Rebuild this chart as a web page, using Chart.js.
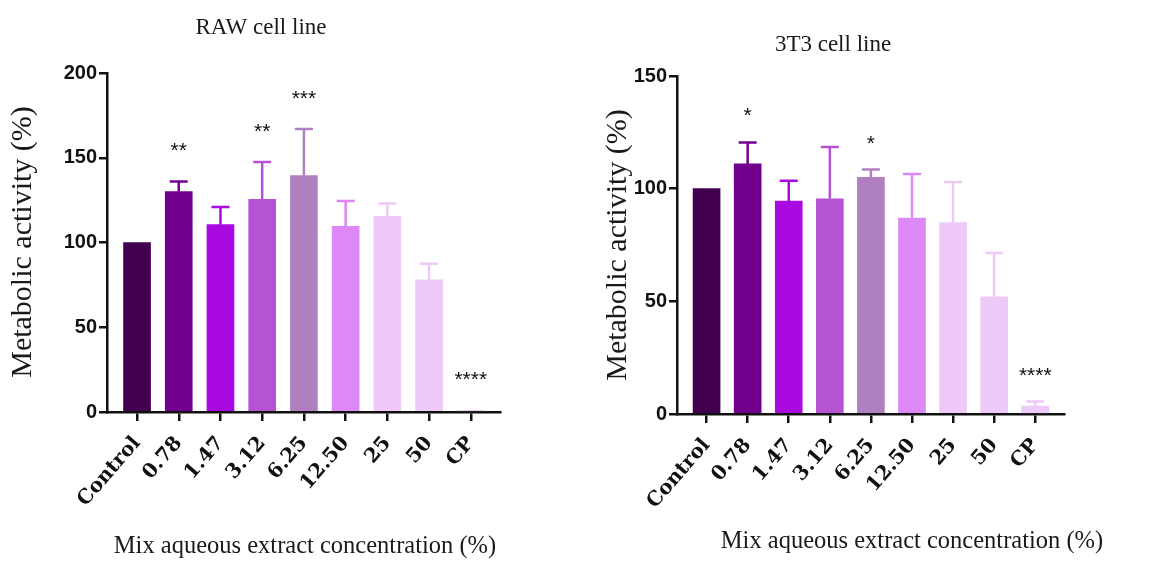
<!DOCTYPE html>
<html>
<head>
<meta charset="utf-8">
<script src="https://cdn.jsdelivr.net/npm/chart.js@4.4.1/dist/chart.umd.min.js"></script>
<style>
  body { margin: 0; background: #fff; }
  canvas { position: absolute; top: 0; }
  #raw { left: 0; }
  #t3 { left: 580px; }
</style>
</head>
<body>
<canvas id="raw" width="580" height="561" style="width:580px;height:561px"></canvas>
<canvas id="t3" width="589" height="561" style="width:589px;height:561px"></canvas>
<script>
const categories = ["Control", "0.78", "1.47", "3.12", "6.25", "12.50", "25", "50", "CP"];
const barColors = ["#410050", "#72008f", "#a90ae0", "#b553d4", "#b07fbf", "#dc88f6", "#efcaf8", "#eecaf8", "#edcaf7"];

// RAW cell line: mean and upper error (SD)
const rawMeans = [100, 130, 110.5, 125.5, 139.5, 109.5, 115.5, 78, 1];
const rawErrors = [0, 6, 10.5, 22, 27.5, 15, 7.5, 9.5, 0];
const rawStars = ["", "**", "", "**", "***", "", "", "", "****"];
const rawTicks = [0, 50, 100, 150, 200];

// 3T3 cell line
const t3Means = [100, 111, 94.5, 95.5, 105, 87, 85, 52, 3.5];
const t3Errors = [0, 9.5, 9, 23, 3.5, 19.5, 18, 19.5, 2];
const t3Stars = ["", "*", "", "", "*", "", "", "", "****"];
const t3Ticks = [0, 50, 100, 150];

const yTitle = "Metabolic activity (%)";
const xTitle = "Mix aqueous extract concentration (%)";

// error bars, significance stars and the text titles
const extras = {
  id: 'extras',
  afterDatasetsDraw(chart, args, o) {
    const ctx = chart.ctx, xs = chart.scales.x, ys = chart.scales.y;
    ctx.save();
    o.means.forEach((m, i) => {
      const px = xs.getPixelForValue(i);
      const top = ys.getPixelForValue(m + o.errors[i]);
      if (o.errors[i] > 0) {
        ctx.strokeStyle = barColors[i];
        ctx.lineWidth = 2.5;
        ctx.beginPath();
        ctx.moveTo(px, ys.getPixelForValue(m));
        ctx.lineTo(px, top);
        ctx.moveTo(px - 9, top);
        ctx.lineTo(px + 9, top);
        ctx.stroke();
      }
      if (o.stars[i]) {
        ctx.fillStyle = '#111';
        ctx.font = '21px "Liberation Sans"';
        ctx.textAlign = 'center';
        ctx.textBaseline = 'alphabetic';
        ctx.fillText(o.stars[i], px, top - o.starGap);
      }
    });
    ctx.restore();
  },
  afterDraw(chart, args, o) {
    const ctx = chart.ctx;
    ctx.save();
    ctx.fillStyle = '#1a1a1a';
    ctx.textAlign = 'center';
    ctx.textBaseline = 'middle';
    o.texts.forEach(t => {
      ctx.save();
      ctx.font = t.size + 'px "Liberation Serif"';
      ctx.translate(t.x, t.y);
      if (t.rot) ctx.rotate(-Math.PI / 2);
      ctx.fillText(t.text, 0, 0);
      ctx.restore();
    });
    ctx.restore();
  }
};

function makeChart(id, means, errors, stars, ticks, box, texts, starGap) {
  const ymax = ticks[ticks.length - 1];
  return new Chart(document.getElementById(id), {
    type: 'bar',
    data: {
      datasets: [{
        data: means.map((v, i) => ({ x: i, y: v })),
        backgroundColor: barColors,
        barThickness: 27
      }]
    },
    plugins: [extras],
    options: {
      responsive: false,
      animation: false,
      layout: { padding: { top: box.top, right: box.right, left: 0, bottom: 0 } },
      plugins: {
        legend: { display: false },
        tooltip: { enabled: false },
        extras: { means: means, errors: errors, stars: stars, texts: texts, starGap: starGap }
      },
      scales: {
        x: {
          type: 'linear',
          offset: false,
          min: -0.72,
          max: 8.7,
          afterBuildTicks: s => { s.ticks = categories.map((c, i) => ({ value: i })); },
          afterFit: s => { s.height = box.xh; },
          grid: { offset: false, drawOnChartArea: false, drawTicks: true, tickLength: 9, color: '#111', lineWidth: 2.5 },
          border: { display: true, color: '#111', width: 2.5 },
          ticks: {
            autoSkip: false,
            minRotation: 49,
            maxRotation: 49,
            padding: 11,
            color: '#111',
            font: { family: '"DejaVu Serif"', weight: 'bold', size: 20 },
            callback: v => categories[v]
          }
        },
        y: {
          min: 0,
          max: ymax,
          afterBuildTicks: s => { s.ticks = ticks.map(v => ({ value: v })); },
          afterFit: s => { s.width = box.yw; },
          grid: { drawOnChartArea: false, drawTicks: true, tickLength: 8, color: '#111', lineWidth: 2.5 },
          border: { display: true, color: '#111', width: 2.5 },
          ticks: {
            padding: 2,
            color: '#111',
            font: { family: '"Liberation Sans"', weight: 'bold', size: 20 }
          }
        }
      }
    }
  });
}

makeChart('raw', rawMeans, rawErrors, rawStars, rawTicks,
  { top: 73, right: 80, xh: 149, yw: 107 },
  [
    { text: "RAW cell line", x: 261, y: 28, size: 23 },
    { text: yTitle, x: 23, y: 242, size: 30, rot: true },
    { text: xTitle, x: 305, y: 547, size: 24.5 }
  ], 24);

makeChart('t3', t3Means, t3Errors, t3Stars, t3Ticks,
  { top: 76, right: 105, xh: 147, yw: 97 },
  [
    { text: "3T3 cell line", x: 253, y: 45, size: 23 },
    { text: yTitle, x: 38, y: 245, size: 30, rot: true },
    { text: xTitle, x: 332, y: 542, size: 24.5 }
  ], 20);
</script>
</body>
</html>
